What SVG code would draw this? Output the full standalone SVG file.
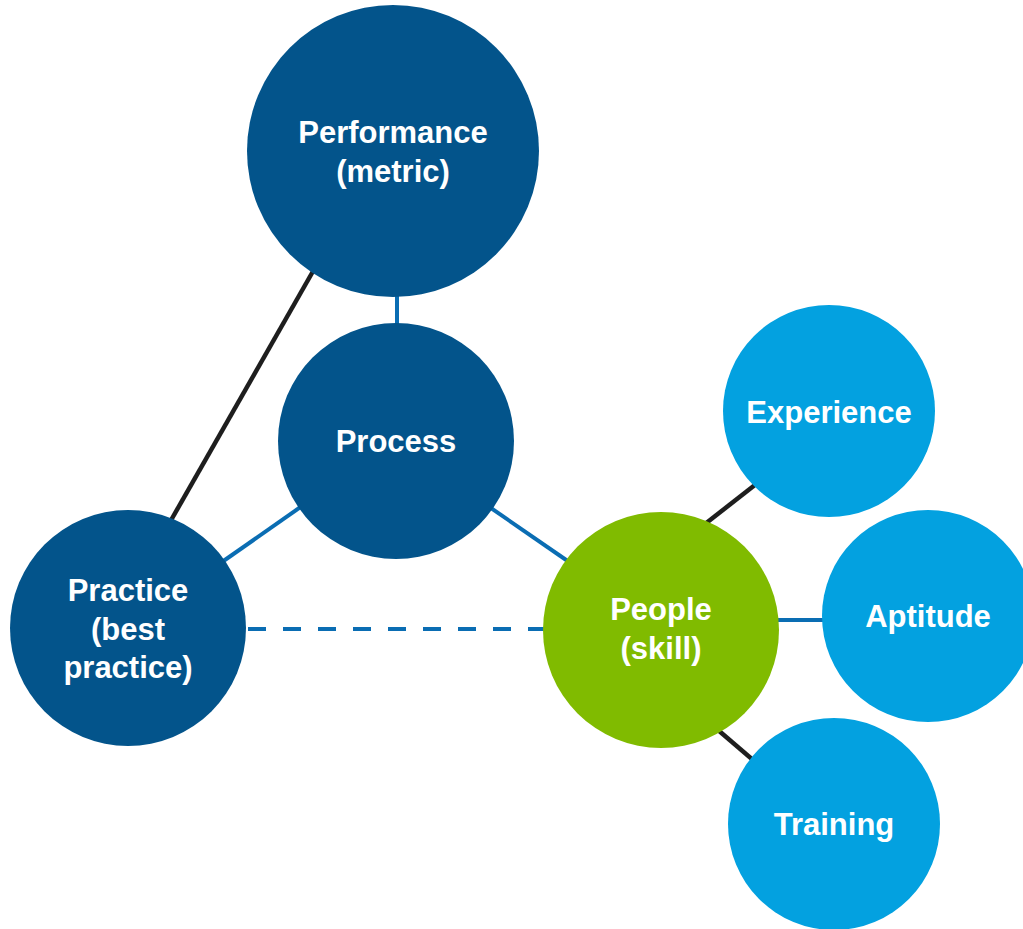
<svg xmlns="http://www.w3.org/2000/svg" width="1023" height="929" viewBox="0 0 1023 929">
<style>
.dark{fill:#03548b}
.light{fill:#03a1e0}
.green{fill:#80bb00}
.lb{stroke:#0a6db3;stroke-width:4;fill:none}
.lk{stroke:#1e1e1e;stroke-width:4.5;fill:none}
text{font-family:"Liberation Sans",Arial,sans-serif;font-weight:bold;font-size:31px;fill:#fff;text-anchor:middle}
</style>
<rect width="1023" height="929" fill="#fff"/>
<g id="connectors">
<line class="lb" x1="397" y1="290" x2="397" y2="330"/>
<line class="lk" x1="316" y1="266" x2="170" y2="522"/>
<line class="lb" x1="302" y1="506" x2="222" y2="562"/>
<line class="lb" x1="488" y1="506" x2="572" y2="564"/>
<line class="lb" x1="240" y1="629" x2="548" y2="629" stroke-dasharray="18 17" stroke-dashoffset="-8"/>
<line class="lk" x1="705" y1="524" x2="760" y2="481"/>
<line class="lb" x1="775" y1="620" x2="826" y2="620"/>
<line class="lk" x1="718" y1="730" x2="760" y2="766"/>
</g>
<g id="performance"><circle class="dark" cx="393" cy="151" r="146"/><text x="393" y="143">Performance</text><text x="393" y="182">(metric)</text></g>
<g id="process"><circle class="dark" cx="396" cy="441" r="118"/><text x="396" y="452">Process</text></g>
<g id="practice"><circle class="dark" cx="128" cy="628" r="118"/><text x="128" y="601">Practice</text><text x="128" y="640">(best</text><text x="128" y="678">practice)</text></g>
<g id="people"><circle class="green" cx="661" cy="630" r="118"/><text x="661" y="620">People</text><text x="661" y="659">(skill)</text></g>
<g id="experience"><circle class="light" cx="829" cy="411" r="106"/><text x="829" y="423">Experience</text></g>
<g id="aptitude"><circle class="light" cx="928" cy="616" r="106"/><text x="928" y="627">Aptitude</text></g>
<g id="training"><circle class="light" cx="834" cy="824" r="106"/><text x="834" y="835">Training</text></g>
</svg>
